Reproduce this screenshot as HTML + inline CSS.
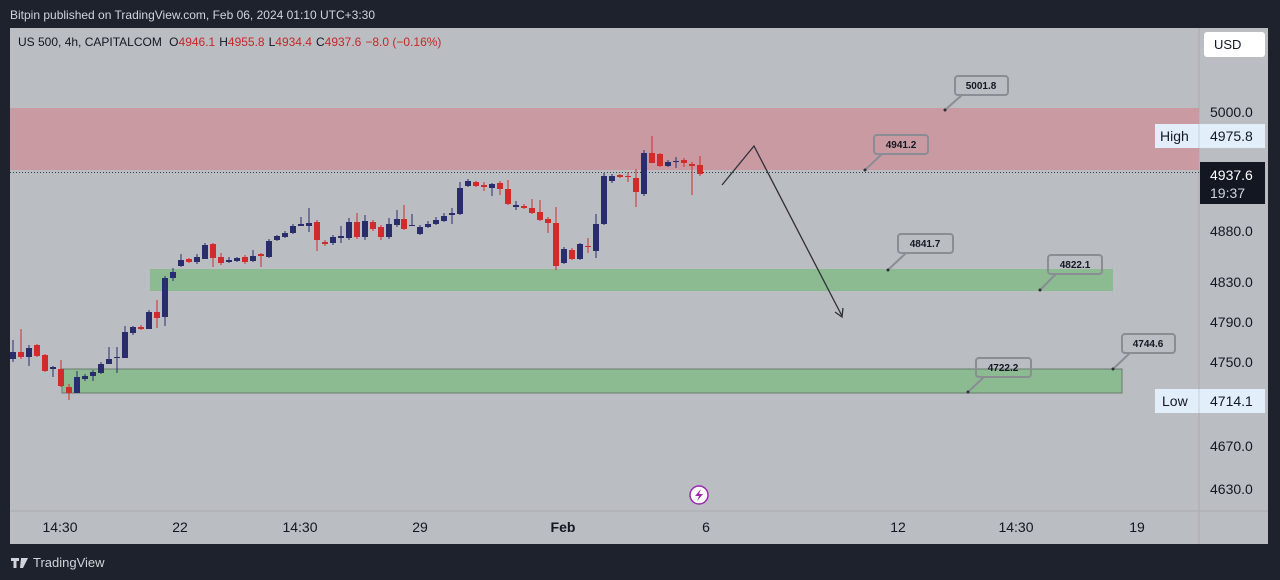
<!DOCTYPE html>
<html><head><meta charset="utf-8"><style>
body{margin:0;width:1280px;height:580px;background:#1e222d;overflow:hidden;font-family:"Liberation Sans",sans-serif}
svg{position:absolute;left:0;top:0}
</style></head><body>
<svg width="1280" height="580" xmlns="http://www.w3.org/2000/svg" font-family="Liberation Sans, sans-serif">
<rect x="0" y="0" width="1280" height="580" fill="#1e222d"/>
<text x="10" y="19" fill="#d1d4dc" font-size="12">Bitpin published on TradingView.com, Feb 06, 2024 01:10 UTC+3:30</text>
<rect x="10" y="28" width="1258" height="516" fill="#babdc2"/>
<line x1="1199" y1="28" x2="1199" y2="544" stroke="#a9acb2"/>
<line x1="10" y1="511" x2="1268" y2="511" stroke="#a9acb2"/>
<rect x="10" y="108" width="1189" height="62" fill="#c99aa2"/>
<rect x="150" y="269" width="963" height="22" fill="#8dbb91"/>
<rect x="62" y="369" width="1060" height="24" fill="#8dbb91" stroke="#6b7a70" stroke-width="1"/>
<line x1="10" y1="172.5" x2="1199" y2="172.5" stroke="#3a3d45" stroke-dasharray="1,2"/>
<g>
<line x1="13" y1="340" x2="13" y2="362" stroke="#2a2d6d"/><rect x="10" y="352" width="6" height="7" fill="#2a2d6d"/>
<line x1="21" y1="329" x2="21" y2="359" stroke="#d32a2a"/><rect x="18" y="352" width="6" height="5" fill="#d32a2a"/>
<line x1="29" y1="345" x2="29" y2="366" stroke="#2a2d6d"/><rect x="26" y="348" width="6" height="9" fill="#2a2d6d"/>
<line x1="37" y1="344" x2="37" y2="357" stroke="#d32a2a"/><rect x="34" y="345" width="6" height="11" fill="#d32a2a"/>
<line x1="45" y1="354" x2="45" y2="372" stroke="#d32a2a"/><rect x="42" y="355" width="6" height="16" fill="#d32a2a"/>
<line x1="53" y1="366" x2="53" y2="377" stroke="#2a2d6d"/><rect x="50" y="367" width="6" height="2" fill="#2a2d6d"/>
<line x1="61" y1="360" x2="61" y2="387" stroke="#d32a2a"/><rect x="58" y="369" width="6" height="17" fill="#d32a2a"/>
<line x1="69" y1="384" x2="69" y2="400" stroke="#d32a2a"/><rect x="66" y="387" width="6" height="6" fill="#d32a2a"/>
<line x1="77" y1="371" x2="77" y2="393" stroke="#2a2d6d"/><rect x="74" y="377" width="6" height="16" fill="#2a2d6d"/>
<line x1="85" y1="374" x2="85" y2="381" stroke="#2a2d6d"/><rect x="82" y="376" width="6" height="3" fill="#2a2d6d"/>
<line x1="93" y1="370" x2="93" y2="381" stroke="#2a2d6d"/><rect x="90" y="372" width="6" height="4" fill="#2a2d6d"/>
<line x1="101" y1="362" x2="101" y2="374" stroke="#2a2d6d"/><rect x="98" y="364" width="6" height="9" fill="#2a2d6d"/>
<line x1="109" y1="347" x2="109" y2="364" stroke="#2a2d6d"/><rect x="106" y="359" width="6" height="5" fill="#2a2d6d"/>
<line x1="117" y1="347" x2="117" y2="373" stroke="#2a2d6d"/><rect x="114" y="357" width="6" height="1" fill="#2a2d6d"/>
<line x1="125" y1="326" x2="125" y2="358" stroke="#2a2d6d"/><rect x="122" y="332" width="6" height="26" fill="#2a2d6d"/>
<line x1="133" y1="326" x2="133" y2="335" stroke="#2a2d6d"/><rect x="130" y="327" width="6" height="6" fill="#2a2d6d"/>
<line x1="141" y1="325" x2="141" y2="330" stroke="#d32a2a"/><rect x="138" y="327" width="6" height="2" fill="#d32a2a"/>
<line x1="149" y1="310" x2="149" y2="329" stroke="#2a2d6d"/><rect x="146" y="312" width="6" height="17" fill="#2a2d6d"/>
<line x1="157" y1="300" x2="157" y2="328" stroke="#d32a2a"/><rect x="154" y="312" width="6" height="6" fill="#d32a2a"/>
<line x1="165" y1="276" x2="165" y2="326" stroke="#2a2d6d"/><rect x="162" y="278" width="6" height="39" fill="#2a2d6d"/>
<line x1="173" y1="268" x2="173" y2="281" stroke="#2a2d6d"/><rect x="170" y="272" width="6" height="6" fill="#2a2d6d"/>
<line x1="181" y1="254" x2="181" y2="267" stroke="#2a2d6d"/><rect x="178" y="260" width="6" height="6" fill="#2a2d6d"/>
<line x1="189" y1="258" x2="189" y2="263" stroke="#d32a2a"/><rect x="186" y="259" width="6" height="3" fill="#d32a2a"/>
<line x1="197" y1="254" x2="197" y2="264" stroke="#2a2d6d"/><rect x="194" y="257" width="6" height="5" fill="#2a2d6d"/>
<line x1="205" y1="243" x2="205" y2="259" stroke="#2a2d6d"/><rect x="202" y="245" width="6" height="14" fill="#2a2d6d"/>
<line x1="213" y1="243" x2="213" y2="267" stroke="#d32a2a"/><rect x="210" y="244" width="6" height="14" fill="#d32a2a"/>
<line x1="221" y1="253" x2="221" y2="265" stroke="#d32a2a"/><rect x="218" y="257" width="6" height="6" fill="#d32a2a"/>
<line x1="229" y1="257" x2="229" y2="263" stroke="#2a2d6d"/><rect x="226" y="260" width="6" height="2" fill="#2a2d6d"/>
<line x1="237" y1="257" x2="237" y2="262" stroke="#2a2d6d"/><rect x="234" y="258" width="6" height="3" fill="#2a2d6d"/>
<line x1="245" y1="255" x2="245" y2="264" stroke="#d32a2a"/><rect x="242" y="257" width="6" height="5" fill="#d32a2a"/>
<line x1="253" y1="250" x2="253" y2="262" stroke="#2a2d6d"/><rect x="250" y="256" width="6" height="5" fill="#2a2d6d"/>
<line x1="261" y1="253" x2="261" y2="267" stroke="#d32a2a"/><rect x="258" y="254" width="6" height="2" fill="#d32a2a"/>
<line x1="269" y1="239" x2="269" y2="258" stroke="#2a2d6d"/><rect x="266" y="241" width="6" height="16" fill="#2a2d6d"/>
<line x1="277" y1="235" x2="277" y2="241" stroke="#2a2d6d"/><rect x="274" y="236" width="6" height="4" fill="#2a2d6d"/>
<line x1="285" y1="231" x2="285" y2="238" stroke="#2a2d6d"/><rect x="282" y="233" width="6" height="4" fill="#2a2d6d"/>
<line x1="293" y1="224" x2="293" y2="234" stroke="#2a2d6d"/><rect x="290" y="226" width="6" height="7" fill="#2a2d6d"/>
<line x1="301" y1="217" x2="301" y2="226" stroke="#2a2d6d"/><rect x="298" y="224" width="6" height="2" fill="#2a2d6d"/>
<line x1="309" y1="208" x2="309" y2="232" stroke="#2a2d6d"/><rect x="306" y="223" width="6" height="3" fill="#2a2d6d"/>
<line x1="317" y1="220" x2="317" y2="251" stroke="#d32a2a"/><rect x="314" y="222" width="6" height="18" fill="#d32a2a"/>
<line x1="325" y1="240" x2="325" y2="246" stroke="#d32a2a"/><rect x="322" y="242" width="6" height="2" fill="#d32a2a"/>
<line x1="333" y1="235" x2="333" y2="245" stroke="#2a2d6d"/><rect x="330" y="237" width="6" height="6" fill="#2a2d6d"/>
<line x1="341" y1="226" x2="341" y2="243" stroke="#2a2d6d"/><rect x="338" y="236" width="6" height="2" fill="#2a2d6d"/>
<line x1="349" y1="218" x2="349" y2="240" stroke="#2a2d6d"/><rect x="346" y="222" width="6" height="16" fill="#2a2d6d"/>
<line x1="357" y1="213" x2="357" y2="239" stroke="#d32a2a"/><rect x="354" y="222" width="6" height="15" fill="#d32a2a"/>
<line x1="365" y1="215" x2="365" y2="240" stroke="#2a2d6d"/><rect x="362" y="221" width="6" height="16" fill="#2a2d6d"/>
<line x1="373" y1="220" x2="373" y2="231" stroke="#d32a2a"/><rect x="370" y="222" width="6" height="7" fill="#d32a2a"/>
<line x1="381" y1="225" x2="381" y2="240" stroke="#d32a2a"/><rect x="378" y="227" width="6" height="10" fill="#d32a2a"/>
<line x1="389" y1="218" x2="389" y2="239" stroke="#2a2d6d"/><rect x="386" y="224" width="6" height="13" fill="#2a2d6d"/>
<line x1="397" y1="210" x2="397" y2="227" stroke="#2a2d6d"/><rect x="394" y="219" width="6" height="6" fill="#2a2d6d"/>
<line x1="404" y1="205" x2="404" y2="230" stroke="#d32a2a"/><rect x="401" y="219" width="6" height="10" fill="#d32a2a"/>
<line x1="412" y1="214" x2="412" y2="226" stroke="#2a2d6d"/><rect x="409" y="225" width="6" height="1" fill="#2a2d6d"/>
<line x1="420" y1="225" x2="420" y2="235" stroke="#2a2d6d"/><rect x="417" y="227" width="6" height="7" fill="#2a2d6d"/>
<line x1="428" y1="221" x2="428" y2="228" stroke="#2a2d6d"/><rect x="425" y="224" width="6" height="3" fill="#2a2d6d"/>
<line x1="436" y1="217" x2="436" y2="225" stroke="#2a2d6d"/><rect x="433" y="220" width="6" height="4" fill="#2a2d6d"/>
<line x1="444" y1="213" x2="444" y2="222" stroke="#2a2d6d"/><rect x="441" y="216" width="6" height="5" fill="#2a2d6d"/>
<line x1="452" y1="208" x2="452" y2="224" stroke="#2a2d6d"/><rect x="449" y="213" width="6" height="2" fill="#2a2d6d"/>
<line x1="460" y1="182" x2="460" y2="215" stroke="#2a2d6d"/><rect x="457" y="188" width="6" height="26" fill="#2a2d6d"/>
<line x1="468" y1="179" x2="468" y2="187" stroke="#2a2d6d"/><rect x="465" y="181" width="6" height="5" fill="#2a2d6d"/>
<line x1="476" y1="181" x2="476" y2="187" stroke="#d32a2a"/><rect x="473" y="182" width="6" height="4" fill="#d32a2a"/>
<line x1="484" y1="182" x2="484" y2="191" stroke="#d32a2a"/><rect x="481" y="185" width="6" height="2" fill="#d32a2a"/>
<line x1="492" y1="183" x2="492" y2="196" stroke="#2a2d6d"/><rect x="489" y="184" width="6" height="4" fill="#2a2d6d"/>
<line x1="500" y1="181" x2="500" y2="195" stroke="#d32a2a"/><rect x="497" y="183" width="6" height="6" fill="#d32a2a"/>
<line x1="508" y1="180" x2="508" y2="205" stroke="#d32a2a"/><rect x="505" y="189" width="6" height="15" fill="#d32a2a"/>
<line x1="516" y1="201" x2="516" y2="210" stroke="#2a2d6d"/><rect x="513" y="205" width="6" height="2" fill="#2a2d6d"/>
<line x1="524" y1="204" x2="524" y2="209" stroke="#d32a2a"/><rect x="521" y="206" width="6" height="2" fill="#d32a2a"/>
<line x1="532" y1="199" x2="532" y2="214" stroke="#d32a2a"/><rect x="529" y="208" width="6" height="5" fill="#d32a2a"/>
<line x1="540" y1="200" x2="540" y2="221" stroke="#d32a2a"/><rect x="537" y="212" width="6" height="8" fill="#d32a2a"/>
<line x1="548" y1="217" x2="548" y2="233" stroke="#d32a2a"/><rect x="545" y="219" width="6" height="4" fill="#d32a2a"/>
<line x1="556" y1="207" x2="556" y2="270" stroke="#d32a2a"/><rect x="553" y="223" width="6" height="43" fill="#d32a2a"/>
<line x1="564" y1="247" x2="564" y2="264" stroke="#2a2d6d"/><rect x="561" y="249" width="6" height="14" fill="#2a2d6d"/>
<line x1="572" y1="248" x2="572" y2="260" stroke="#d32a2a"/><rect x="569" y="250" width="6" height="9" fill="#d32a2a"/>
<line x1="580" y1="243" x2="580" y2="260" stroke="#2a2d6d"/><rect x="577" y="244" width="6" height="15" fill="#2a2d6d"/>
<line x1="588" y1="238" x2="588" y2="253" stroke="#d32a2a"/><rect x="585" y="246" width="6" height="1" fill="#d32a2a"/>
<line x1="596" y1="214" x2="596" y2="258" stroke="#2a2d6d"/><rect x="593" y="224" width="6" height="27" fill="#2a2d6d"/>
<line x1="604" y1="173" x2="604" y2="225" stroke="#2a2d6d"/><rect x="601" y="176" width="6" height="48" fill="#2a2d6d"/>
<line x1="612" y1="174" x2="612" y2="183" stroke="#2a2d6d"/><rect x="609" y="176" width="6" height="5" fill="#2a2d6d"/>
<line x1="620" y1="174" x2="620" y2="178" stroke="#d32a2a"/><rect x="617" y="175" width="6" height="2" fill="#d32a2a"/>
<line x1="628" y1="172" x2="628" y2="182" stroke="#d32a2a"/><rect x="625" y="176" width="6" height="1" fill="#d32a2a"/>
<line x1="636" y1="169" x2="636" y2="207" stroke="#d32a2a"/><rect x="633" y="178" width="6" height="14" fill="#d32a2a"/>
<line x1="644" y1="150" x2="644" y2="196" stroke="#2a2d6d"/><rect x="641" y="153" width="6" height="41" fill="#2a2d6d"/>
<line x1="652" y1="136" x2="652" y2="163" stroke="#d32a2a"/><rect x="649" y="153" width="6" height="10" fill="#d32a2a"/>
<line x1="660" y1="153" x2="660" y2="167" stroke="#d32a2a"/><rect x="657" y="154" width="6" height="12" fill="#d32a2a"/>
<line x1="668" y1="160" x2="668" y2="167" stroke="#2a2d6d"/><rect x="665" y="162" width="6" height="4" fill="#2a2d6d"/>
<line x1="676" y1="157" x2="676" y2="168" stroke="#2a2d6d"/><rect x="673" y="161" width="6" height="1" fill="#2a2d6d"/>
<line x1="684" y1="158" x2="684" y2="167" stroke="#d32a2a"/><rect x="681" y="160" width="6" height="3" fill="#d32a2a"/>
<line x1="692" y1="162" x2="692" y2="195" stroke="#d32a2a"/><rect x="689" y="164" width="6" height="2" fill="#d32a2a"/>
<line x1="700" y1="156" x2="700" y2="176" stroke="#d32a2a"/><rect x="697" y="165" width="6" height="9" fill="#d32a2a"/>
</g>
<polyline points="722,185 754,146 842,316" fill="none" stroke="#2e3036" stroke-width="1.3"/>
<polyline points="835,312 842,317 843,308" fill="none" stroke="#2e3036" stroke-width="1.3"/>
<g font-size="10" font-weight="bold" fill="#131722" text-anchor="middle">
<g fill="none" stroke="#8a8d94" stroke-width="2">
<rect x="955" y="76" width="53" height="19" rx="3"/><line x1="945" y1="110" x2="962" y2="95"/>
<rect x="874" y="135" width="54" height="19" rx="3"/><line x1="865" y1="170" x2="882" y2="154"/>
<rect x="898" y="234" width="55" height="19" rx="3"/><line x1="888" y1="270" x2="906" y2="253"/>
<rect x="1048" y="255" width="54" height="19" rx="3"/><line x1="1040" y1="290" x2="1056" y2="274"/>
<rect x="976" y="358" width="55" height="19" rx="3"/><line x1="968" y1="392" x2="984" y2="377"/>
<rect x="1122" y="334" width="53" height="19" rx="3"/><line x1="1113" y1="369" x2="1130" y2="353"/>
</g>
<g fill="#2e3036"><circle cx="945" cy="110" r="1.5"/><circle cx="865" cy="170" r="1.5"/><circle cx="888" cy="270" r="1.5"/><circle cx="1040" cy="290" r="1.5"/><circle cx="968" cy="392" r="1.5"/><circle cx="1113" cy="369" r="1.5"/></g>
<text x="981" y="89">5001.8</text>
<text x="901" y="148">4941.2</text>
<text x="925" y="247">4841.7</text>
<text x="1075" y="268">4822.1</text>
<text x="1003" y="371">4722.2</text>
<text x="1148" y="347">4744.6</text>
</g>
<text x="18" y="46" font-size="12" fill="#131722">US 500, 4h, CAPITALCOM <tspan dx="4">O</tspan><tspan fill="#c62828">4946.1</tspan><tspan dx="4">H</tspan><tspan fill="#c62828">4955.8</tspan><tspan dx="4">L</tspan><tspan fill="#c62828">4934.4</tspan><tspan dx="4">C</tspan><tspan fill="#c62828">4937.6</tspan><tspan dx="4" fill="#c62828">−8.0 (−0.16%)</tspan></text>
<rect x="1204" y="32" width="61" height="25" rx="3" fill="#ffffff"/>
<text x="1214" y="49" font-size="13" fill="#131722">USD</text>
<g font-size="14" fill="#131722">
<text x="1210" y="117">5000.0</text>
<text x="1210" y="236">4880.0</text>
<text x="1210" y="287">4830.0</text>
<text x="1210" y="327">4790.0</text>
<text x="1210" y="367">4750.0</text>
<text x="1210" y="451">4670.0</text>
<text x="1210" y="494">4630.0</text>
</g>
<rect x="1155" y="124" width="110" height="24" fill="#e3eefb"/>
<line x1="1199" y1="124" x2="1199" y2="148" stroke="#c5ccd6"/>
<text x="1160" y="141" font-size="14" fill="#131722">High</text>
<text x="1210" y="141" font-size="14" fill="#131722">4975.8</text>
<rect x="1155" y="389" width="110" height="24" fill="#e3eefb"/>
<line x1="1199" y1="389" x2="1199" y2="413" stroke="#c5ccd6"/>
<text x="1162" y="406" font-size="14" fill="#131722">Low</text>
<text x="1210" y="406" font-size="14" fill="#131722">4714.1</text>
<rect x="1200" y="162" width="65" height="42" fill="#131722"/>
<text x="1210" y="180" font-size="14" fill="#ffffff">4937.6</text>
<text x="1210" y="198" font-size="14" fill="#d1d4dc">19:37</text>
<g font-size="14" fill="#131722" text-anchor="middle">
<text x="60" y="532">14:30</text>
<text x="180" y="532">22</text>
<text x="300" y="532">14:30</text>
<text x="420" y="532">29</text>
<text x="563" y="532" font-weight="bold">Feb</text>
<text x="706" y="532">6</text>
<text x="898" y="532">12</text>
<text x="1016" y="532">14:30</text>
<text x="1137" y="532">19</text>
</g>
<circle cx="699" cy="495" r="9" fill="#ffffff" stroke="#9c27b0" stroke-width="1.5"/>
<path d="M701,489 L695,496 L699,496 L697,501 L703,494 L699,494 Z" fill="#9c27b0"/>
<path d="M11,558 h8 v3 h-2.5 v7 h-3 v-7 h-2.5 Z M21,558 h7 l-5,10 h-3 Z" fill="#d1d4dc"/>
<text x="33" y="567" font-size="13" fill="#d1d4dc">TradingView</text>
</svg>
</body></html>
